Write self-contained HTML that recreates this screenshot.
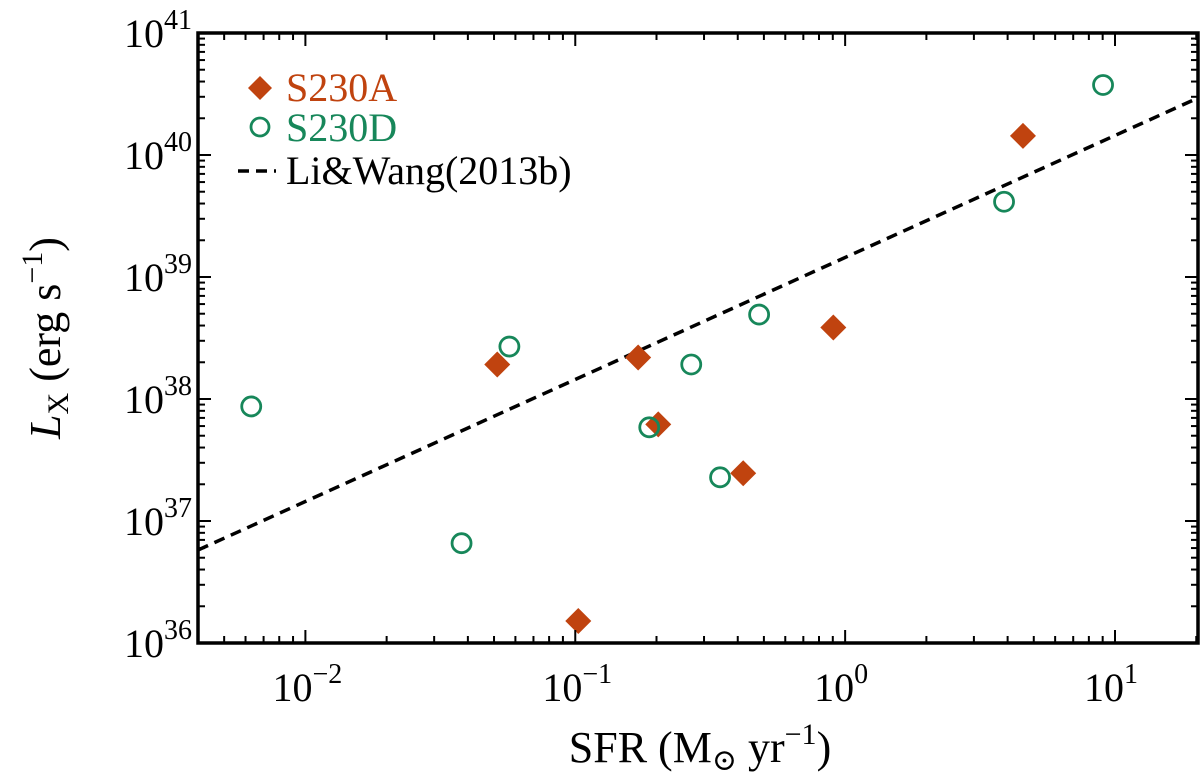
<!DOCTYPE html>
<html><head><meta charset="utf-8"><style>
body{margin:0;background:#fff}
svg, svg text{font-family:"Liberation Serif","DejaVu Serif",serif}
</style></head><body>
<svg id="chart" width="1200" height="775" viewBox="0 0 1200 775" font-family="Liberation Serif, serif"></svg>
<script>
const aSFR=[0.0514,0.171,0.203,0.1026,0.419,0.904,4.56];
const aLX=[38.283,38.34,37.792,36.18,37.391,38.586,40.157];
const dSFR=[0.0063,0.0379,0.057,0.188,0.269,0.344,0.48,3.88,9.03];
const dLX=[37.939,36.818,38.43,37.768,38.283,37.358,38.692,39.617,40.574];
const fitNorm=39.16, fitSlope=1.0;
const xTicks=[-2,-1,0,1];
const yTicks=[36,37,38,39,40,41];
const L=198,R=1198,T=33,B=643;
const xmin=Math.log10(0.004),xmax=Math.log10(20.3);
const X=v=>L+(Math.log10(v)-xmin)/(xmax-xmin)*(R-L);
const Y=lg=>B-(lg-36)/5*(B-T);
const svg=document.getElementById('chart');
const NS='http://www.w3.org/2000/svg';
const FF='Liberation Serif, serif';
function mk(tag,attrs,parent){const e=document.createElementNS(NS,tag);for(const k in attrs)e.setAttribute(k,attrs[k]);if(tag==='text')e.setAttribute('font-family',FF);(parent||svg).appendChild(e);return e;}
const red='#c0430f',green='#17875a';
const clip=mk('clipPath',{id:'c'});mk('rect',{x:L,y:T,width:R-L,height:B-T},clip);
const fit=mk('line',{x1:L,y1:Y(fitNorm+fitSlope*xmin),x2:R,y2:Y(fitNorm+fitSlope*xmax),stroke:'#000','stroke-width':3.5,'stroke-dasharray':'11,7','clip-path':'url(#c)'});


aSFR.forEach((s,i)=>{const cx=X(s),cy=Y(aLX[i]);
const p=mk('polygon',{points:`${cx},${cy-13} ${cx+13},${cy} ${cx},${cy+13} ${cx-13},${cy}`,fill:red});

});
dSFR.forEach((s,i)=>{
const c=mk('circle',{cx:X(s),cy:Y(dLX[i]),r:9.5,fill:'none',stroke:green,'stroke-width':2.8});

});
const tg=mk('g',{stroke:'#000','stroke-width':2});
for(let d=-3;d<=1;d++)for(let m=1;m<=9;m++){const v=m*Math.pow(10,d);const x=X(v);if(x<L+1||x>R-1)continue;const len=m===1?13:7;
mk('line',{x1:x,y1:B,x2:x,y2:B-len},tg);mk('line',{x1:x,y1:T,x2:x,y2:T+len},tg);}
for(let d=36;d<=40;d++)for(let m=1;m<=9;m++){const lg=d+Math.log10(m);const y=Y(lg);if(y<T+1||y>B-1)continue;const len=m===1?13:7;
mk('line',{x1:L,y1:y,x2:L+len,y2:y},tg);mk('line',{x1:R,y1:y,x2:R-len,y2:y},tg);}
const frame=mk('rect',{x:L,y:T,width:R-L,height:B-T,fill:'none',stroke:'#000','stroke-width':3.5});


xTicks.forEach(e=>{const x=X(Math.pow(10,e));
const t=mk('text',{x:x+(e<0?2:-4),y:B+58,'font-size':40,'text-anchor':'middle'});
t.innerHTML=`10<tspan dy="-18" font-size="28">${e<0?'\u2212'+(-e):e}</tspan>`;

});
yTicks.forEach(e=>{const y=Y(e);
const t=mk('text',{x:L-6,y:y+14,'font-size':40,'text-anchor':'end'});
t.innerHTML=`10<tspan dy="-18" font-size="28">${e}</tspan>`;

});
const xt=mk('text',{x:(L+R)/2+2,y:762,'font-size':44,'text-anchor':'middle'});
xt.innerHTML='SFR (M<tspan font-size="30" dy="8">\u2299</tspan><tspan dy="-8"> yr</tspan><tspan dy="-18" font-size="30">\u22121</tspan><tspan dy="18">)</tspan>';


const yt=mk('text',{x:0,y:0,'font-size':44,'text-anchor':'middle',transform:`translate(60,${(T+B)/2}) rotate(-90)`});
yt.innerHTML='<tspan font-style="italic">L</tspan><tspan font-size="30" dy="8">X</tspan><tspan dy="-8"> (erg s</tspan><tspan dy="-18" font-size="30">\u22121</tspan><tspan dy="18">)</tspan>';


const lg=mk('g',{});
mk('polygon',{points:'260,76 272,88 260,100 248,88',fill:red},lg);
mk('text',{x:286,y:101,'font-size':40,fill:red},lg).textContent='S230A';
mk('circle',{cx:260,cy:127,r:9,fill:'none',stroke:green,'stroke-width':2.8},lg);
mk('text',{x:286,y:141,'font-size':40,fill:green},lg).textContent='S230D';
mk('line',{x1:238,y1:171,x2:276,y2:171,stroke:'#000','stroke-width':3.5,'stroke-dasharray':'11,7'},lg);
mk('text',{x:286,y:184,'font-size':40},lg).textContent='Li&Wang(2013b)';
</script>
</body></html>
